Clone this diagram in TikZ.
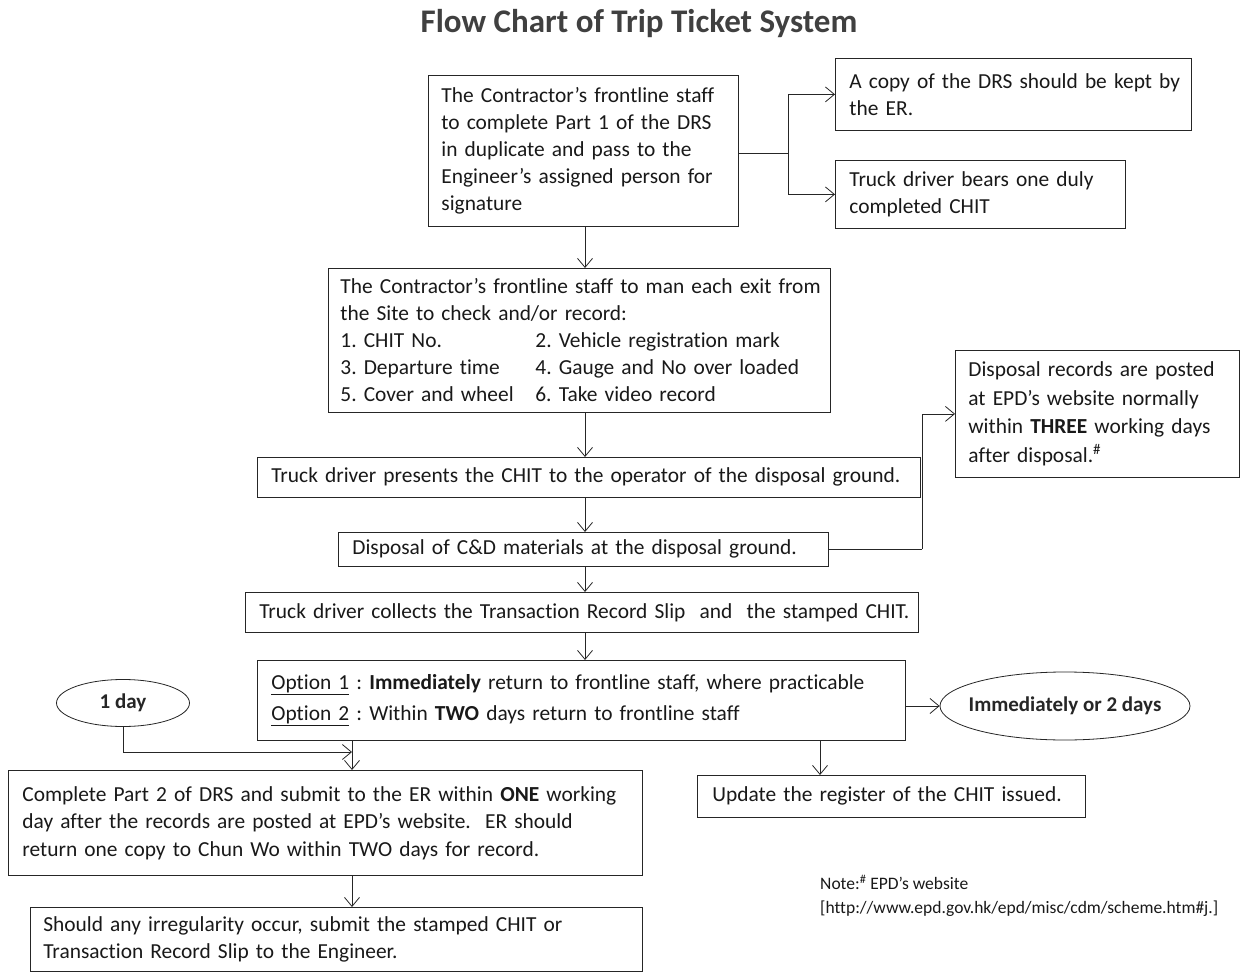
\documentclass[tikz,border=0pt]{standalone}
\usepackage{fontspec}
\setmainfont{Carlito}[Ligatures={NoCommon,NoContextual}]
\usetikzlibrary{arrows.meta,shapes.geometric}
\frenchspacing
\newcommand{\keepline}[1]{\mbox{#1}}
\begin{document}
\begin{tikzpicture}[x=1pt,y=-1pt,
  line/.style={draw=black!85, line width=0.8pt},
  arr/.style={line, -{Straight Barb[length=9pt,width=15pt,line width=0.8pt]}},
  box/.style={line, rectangle, inner xsep=13pt, inner ysep=0pt, align=left,
    anchor=north west, font=\fontsize{21.4}{27}\selectfont, text=black!90},
  oval/.style={line, ellipse, inner xsep=-30pt, inner ysep=-5pt, font=\bfseries\fontsize{21}{26}\selectfont, text=black!85},
  tlt/.style={font=\bfseries\fontsize{33}{38}\selectfont, text=black!75},
  note/.style={align=left, anchor=west, inner sep=0pt, font=\fontsize{17.5}{24}\selectfont, text=black!90}
]
\useasboundingbox (0,0) rectangle (1255,973);
\fill[white] (0,0) rectangle (1255,973);

\node[tlt] (title) at (639,24) {Flow Chart of Trip Ticket System};

\node[box, text width=284pt, minimum height=151pt] (A) at (428,75)
  {\keepline{The Contractor’s frontline staff}\\ \keepline{to complete Part 1 of the DRS}\\ \keepline{in duplicate and pass to the}\\ \keepline{Engineer’s assigned person for}\\ signature};
\node[box, inner xsep=14pt, text width=328pt, minimum height=72pt] (B) at (835,58)
  {\keepline{A copy of the DRS should be kept by}\\ the ER.};
\node[box, inner xsep=14pt, text width=262pt, minimum height=68pt] (C) at (835,160)
  {\keepline{Truck driver bears one duly}\\ completed CHIT};
\node[box, inner xsep=12pt, text width=478pt, minimum height=144pt] (D) at (328,268)
  {\keepline{The Contractor’s frontline staff to man each exit from}\\ \keepline{the Site to check and/or record:}\\
   \makebox[195pt][l]{1. CHIT No.}\keepline{2. Vehicle registration mark}\\
   \makebox[195pt][l]{3. Departure time}\keepline{4. Gauge and No over loaded}\\
   \makebox[195pt][l]{5. Cover and wheel}\keepline{6. Take video record}};
\node[box, inner xsep=14pt, text width=635pt, minimum height=40pt] (E) at (257,457)
  {\keepline{Truck driver presents the CHIT to the operator of the disposal ground.}};
\node[box, inner xsep=14pt, text width=462pt, minimum height=34pt] (F) at (338,532)
  {\keepline{Disposal of C\&D materials at the disposal ground.}};
\node[box, text width=258pt, minimum height=127pt, font=\fontsize{21.4}{28.5}\selectfont] (G) at (955,350)
  {\keepline{Disposal records are posted}\\ \keepline{at EPD’s website normally}\\ \keepline{within \textbf{THREE} working days}\\ \keepline{after disposal.\textsuperscript{\#}}};
\node[box, inner xsep=14pt, text width=645pt, minimum height=40pt] (H) at (245,592)
  {\keepline{Truck driver collects the Transaction Record Slip~ and~ the stamped CHIT.}};
\node[box, inner xsep=14pt, text width=620pt, minimum height=80pt, font=\fontsize{21.4}{31}\selectfont] (I) at (257,660)
  {\keepline{\underline{Option 1} : \textbf{Immediately} return to frontline staff, where practicable}\\
   \keepline{\underline{Option 2} : Within \textbf{TWO} days return to frontline staff}};
\node[oval, minimum width=250pt, minimum height=68pt] (IM) at (1065,706) {Immediately or 2 days};
\node[box, inner xsep=15pt, text width=358pt, minimum height=42pt] (J) at (697,775)
  {\keepline{Update the register of the CHIT issued.}};
\node[oval, minimum width=133pt, minimum height=47pt] (OD) at (123,703) {1 day};
\node[box, inner xsep=14pt, text width=606pt, minimum height=105pt, font=\fontsize{21.4}{27.5}\selectfont] (K) at (8,770)
  {\keepline{Complete Part 2 of DRS and submit to the ER within \textbf{ONE} working}\\ \keepline{day after the records are posted at EPD’s website.~ ER should}\\ \keepline{return one copy to Chun Wo within TWO days for record.}};
\node[box, text width=586pt, minimum height=64pt, font=\fontsize{21.4}{26.5}\selectfont] (L) at (30,907)
  {\keepline{Should any irregularity occur, submit the stamped CHIT or}\\ \keepline{Transaction Record Slip to the Engineer.}};
\node[note] (N) at (820,896)
  {Note:\textsuperscript{\#} EPD’s website\\ {[}http://www.epd.gov.hk/epd/misc/cdm/scheme.htm\#j.{]}};

% connectors
\coordinate (split) at (788,153);
\coordinate (spine) at (585,0);
\coordinate (colJ) at (820,0);
\coordinate (colK) at (352,0);
\coordinate (join) at (352,752);
\coordinate (bend) at (922,549);

\draw[line] (A.east |- split) -- (split);
\draw[arr] (split) |- (B.west);
\draw[arr] (split) |- (C.west);
\draw[arr] (A.south -| spine) -- (D.north -| spine);
\draw[arr] (D.south -| spine) -- (E.north -| spine);
\draw[arr] (E.south -| spine) -- (F.north -| spine);
\draw[arr] (F.south -| spine) -- (H.north -| spine);
\draw[arr] (H.south -| spine) -- (I.north -| spine);
\draw[line] (F.east |- bend) -- (bend);
\draw[arr] (bend) |- (G.west);
\draw[arr] (I.east |- IM.west) -- (IM.west);
\draw[arr] (I.south -| colJ) -- (J.north -| colJ);
\draw[arr] (I.south -| colK) -- (K.north -| colK);
\draw[arr] (OD.south) |- (join);
\draw[arr] (K.south -| colK) -- (L.north -| colK);
\end{tikzpicture}
\end{document}
